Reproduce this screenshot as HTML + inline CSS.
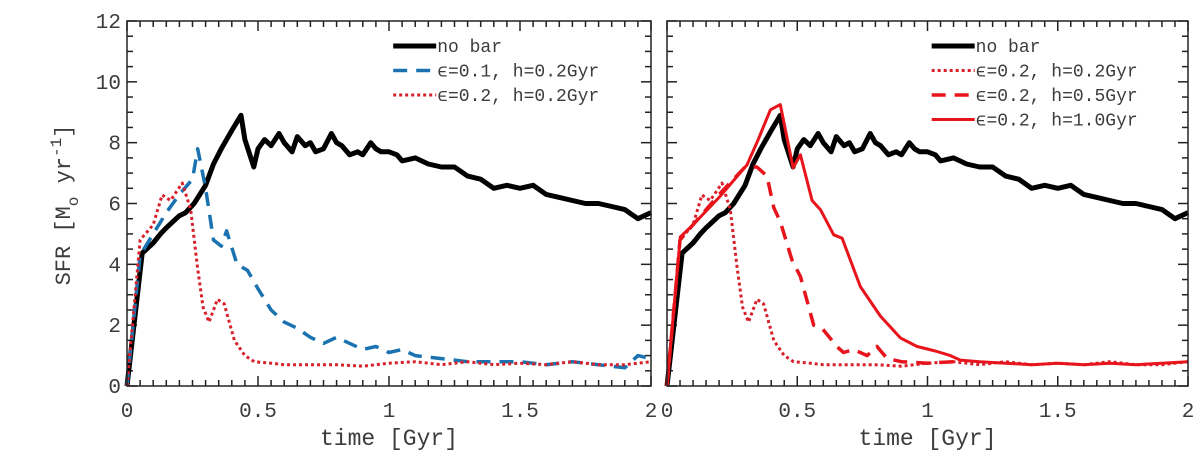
<!DOCTYPE html>
<html><head><meta charset="utf-8"><style>
body{margin:0;background:#fff}
svg text{font-family:"Liberation Mono",monospace;fill:#3c3c3c}
</style></head><body>
<svg id="c" width="1200" height="453" viewBox="0 0 1200 453"></svg>
<script>
const noBarT=[0,0.058,0.1,0.128,0.15,0.2,0.224,0.256,0.3,0.33,0.36,0.4,0.435,0.45,0.484,0.5,0.525,0.55,0.58,0.6,0.63,0.65,0.68,0.7,0.72,0.75,0.78,0.8,0.82,0.85,0.88,0.9,0.93,0.95,0.97,1.0,1.03,1.05,1.1,1.15,1.2,1.25,1.3,1.35,1.4,1.45,1.5,1.55,1.6,1.65,1.7,1.75,1.8,1.85,1.9,1.95,2.0];
const noBarV=[0,4.37,4.7,5.0,5.2,5.6,5.7,6.0,6.6,7.3,7.8,8.4,8.9,8.1,7.2,7.8,8.1,7.9,8.3,8.0,7.7,8.2,7.9,8.0,7.7,7.8,8.3,8.0,7.9,7.6,7.7,7.6,8.0,7.8,7.7,7.7,7.6,7.4,7.5,7.3,7.2,7.2,6.9,6.8,6.5,6.6,6.5,6.6,6.3,6.2,6.1,6.0,6.0,5.9,5.8,5.5,5.7];
const e01T=[0,0.05,0.1,0.15,0.2,0.25,0.27,0.3,0.33,0.36,0.38,0.42,0.46,0.5,0.55,0.6,0.65,0.7,0.75,0.8,0.85,0.9,0.95,1.0,1.05,1.1,1.2,1.3,1.4,1.5,1.6,1.7,1.8,1.9,1.95,2.0];
const e01V=[0,4.3,5.0,5.7,6.3,6.8,7.8,6.5,4.8,4.6,5.1,4.0,3.8,3.2,2.5,2.1,1.9,1.6,1.4,1.6,1.4,1.2,1.3,1.1,1.2,1.0,0.9,0.8,0.8,0.8,0.7,0.8,0.7,0.6,1.0,0.9];
const h02T=[0,0.05,0.1,0.134,0.166,0.211,0.243,0.269,0.29,0.313,0.33,0.345,0.371,0.41,0.45,0.486,0.55,0.6,0.7,0.8,0.9,1.0,1.1,1.2,1.3,1.4,1.5,1.6,1.7,1.8,1.9,2.0];
const h02V=[0,4.8,5.3,6.28,6.1,6.67,5.8,3.9,2.6,2.1,2.5,2.85,2.7,1.5,1.0,0.8,0.75,0.7,0.7,0.7,0.65,0.75,0.8,0.7,0.8,0.7,0.75,0.7,0.8,0.7,0.7,0.8];
const h05T=[0,0.05,0.1,0.2,0.3,0.345,0.384,0.41,0.435,0.48,0.512,0.563,0.595,0.653,0.678,0.717,0.768,0.806,0.845,0.9,1.0,1.1];
const h05V=[0,4.8,5.3,6.3,7.2,7.2,6.9,5.86,5.4,4.14,3.6,2.0,1.9,1.29,1.1,1.2,1.0,1.3,0.9,0.8,0.75,0.8];
const h10T=[0,0.051,0.1,0.2,0.307,0.35,0.397,0.435,0.484,0.512,0.557,0.589,0.64,0.672,0.742,0.819,0.896,0.96,1.03,1.088,1.126,1.2,1.3,1.4,1.5,1.6,1.7,1.8,1.9,2.0];
const h10V=[0,4.9,5.3,6.2,7.27,8.1,9.08,9.25,7.17,7.6,6.1,5.8,4.97,4.86,3.27,2.3,1.58,1.3,1.15,1.0,0.85,0.8,0.75,0.7,0.75,0.7,0.75,0.7,0.75,0.8];
const xTicks=["0","0.5","1","1.5","2"];
const yTicks=["0","2","4","6","8","10","12"];
const NS="http://www.w3.org/2000/svg",svg=document.getElementById('c');
function el(t,a,p){const e=document.createElementNS(NS,t);for(const k in a)e.setAttribute(k,a[k]);(p||svg).appendChild(e);return e;}
const Y0=386,Y1=21;
function ys(v){return Y0+(Y1-Y0)*v/12;}
function panel(x0,x1,series,legend,name,showY){
  const g=el('g',{});
  
  
  const xs=t=>x0+(x1-x0)*t/2;
  for(let i=0;i<=40;i++){const x=xs(i*0.05),L=i%10==0?10:6;
    el('line',{x1:x,x2:x,y1:Y0,y2:Y0-L,stroke:'#222','stroke-width':1.5},g);
    el('line',{x1:x,x2:x,y1:Y1,y2:Y1+L,stroke:'#222','stroke-width':1.5},g);}
  for(let i=0;i<=24;i++){const y=ys(i*0.5),L=i%4==0?10:6;
    el('line',{x1:x0,x2:x0+L,y1:y,y2:y,stroke:'#222','stroke-width':1.5},g);
    el('line',{x1:x1,x2:x1-L,y1:y,y2:y,stroke:'#222','stroke-width':1.5},g);}
  xTicks.forEach((s,i)=>{const t=el('text',{x:xs(i*0.5),y:Y0+31,'text-anchor':'middle','font-size':21},g);t.textContent=s;
    
    });
  if(showY)yTicks.forEach((s,i)=>{const t=el('text',{x:x0-6,y:ys(i*2)+7,'text-anchor':'end','font-size':21},g);t.textContent=s;
    
    });
  series.forEach(s=>{const d=s.t.map((t,i)=>(i?'L':'M')+xs(t).toFixed(1)+','+ys(s.v[i]).toFixed(1)).join('');
    const p=el('path',{d:d,fill:'none',stroke:s.c,'stroke-width':s.w,'stroke-dasharray':s.da||'none','stroke-linejoin':'round'},g);
    
    });
  legend.forEach((s,i)=>{const y=46+i*24.5,lx=x0+(x1-x0)*0.508;
    const l=el('line',{x1:lx,x2:lx+43,y1:y,y2:y,stroke:s.c,'stroke-width':s.w,'stroke-dasharray':s.da||'none'},g);
    
    
    const t=el('text',{x:lx+44,y:y+6,'font-size':18},g);t.textContent=s.label;
    
    });
  el('rect',{x:x0,y:Y1,width:x1-x0,height:Y0-Y1,fill:'none',stroke:'#222','stroke-width':1.5},g);
  const xl=el('text',{x:(x0+x1)/2,y:445,'text-anchor':'middle','font-size':23},g);xl.textContent='time [Gyr]';
  
  
}
const black={t:noBarT,v:noBarV,c:'#000',w:5,n:'no-bar-line',label:'no bar'};
const blue={t:e01T,v:e01V,c:'#1a73b0',w:3.5,da:'14 9',n:'eps01-h02-line',label:'\u03f5=0.1, h=0.2Gyr'};
const dot={t:h02T,v:h02V,c:'#d8202a',w:3,da:'3 3',n:'eps02-h02-line',label:'\u03f5=0.2, h=0.2Gyr'};
const dash={t:h05T,v:h05V,c:'#e8141c',w:3.5,da:'14 9',n:'eps02-h05-line',label:'\u03f5=0.2, h=0.5Gyr'};
const solid={t:h10T,v:h10V,c:'#e8141c',w:3,n:'eps02-h10-line',label:'\u03f5=0.2, h=1.0Gyr'};
panel(127,651,[black,blue,dot],[black,blue,dot],'left-panel',true);
panel(667,1188,[black,dot,dash,solid],[black,dot,dash,solid],'right-panel',false);
const yl=el('text',{transform:'translate(70,205) rotate(-90)','text-anchor':'middle','font-size':22});
yl.innerHTML='SFR [M<tspan dy="8" font-size="16">o</tspan><tspan dy="-8"> yr</tspan><tspan dy="-9" font-size="16">-1</tspan><tspan dy="9">]</tspan>';


</script>
</body></html>
